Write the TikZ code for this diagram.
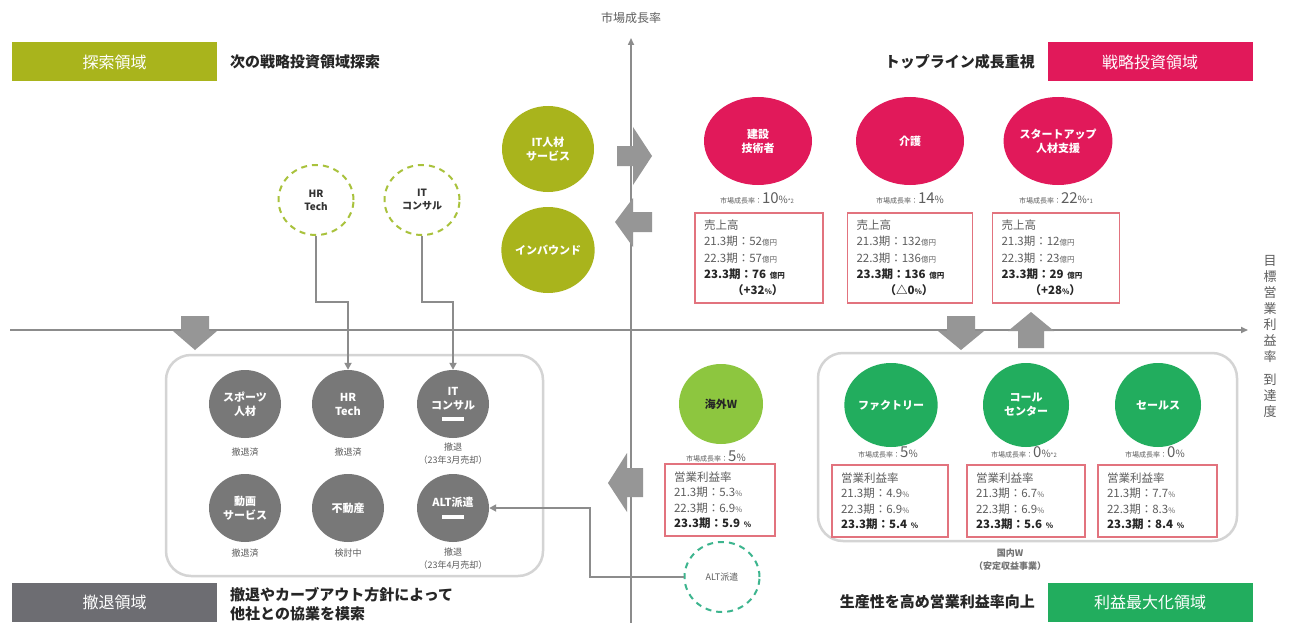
\documentclass[tikz,border=0pt]{standalone}
\usepackage{fontspec}
\setmainfont{Noto Sans CJK JP}
\usetikzlibrary{arrows.meta,shapes.geometric}
\definecolor{olive}{HTML}{A9B41C}
\definecolor{crim}{HTML}{E1195A}
\definecolor{lbgray}{HTML}{6D6D72}
\definecolor{grn}{HTML}{22AD5E}
\definecolor{lgrn}{HTML}{8DC63F}
\definecolor{cgray}{HTML}{787878}
\definecolor{axgray}{HTML}{8C8C8C}
\definecolor{blkgray}{HTML}{969696}
\definecolor{redbox}{HTML}{E2737E}
\definecolor{txtgray}{HTML}{5E5E5E}
\definecolor{tealc}{HTML}{3DB58E}
\definecolor{ygrn}{HTML}{A9C23C}
\definecolor{roundgray}{HTML}{D4D4D4}
\newcommand{\myfs}[2]{\fontsize{#1}{#2}\selectfont}
\newcommand{\unit}[1]{{\myfs{7.5}{10}#1}}
\newcommand{\mrate}[2]{{\myfs{7}{10}市場成長率：}{\myfs{15}{16}#1}{\myfs{10}{12}\%}{\myfs{6}{8}#2}}
\tikzset{
  area/.style={minimum width=205, minimum height=39, inner sep=0, text=white, font=\myfs{16}{18}},
  head/.style={font=\bfseries\myfs{15}{21}, text=black!85, inner sep=0, align=left},
  bcirc/.style={ellipse, inner sep=0, align=center, text=white, font=\bfseries\myfs{11}{14}},
  ratelbl/.style={text=txtgray, inner sep=0},
  databox/.style={draw=redbox, line width=1.2, align=left, text=txtgray, inner ysep=0, inner xsep=9, font=\myfs{11.5}{16.3}},
  sub/.style={text=txtgray, font=\myfs{9}{13}, align=center, inner sep=0},
  conn/.style={draw=axgray, line width=2, -{Triangle[length=7,width=7]}},
  axis/.style={draw=axgray, line width=1.6, -{Triangle[length=7,width=6]}},
  dcirc/.style={ellipse, draw=#1, dashed, dash pattern=on 6pt off 5pt, line width=2, inner sep=0, align=center, minimum width=75, minimum height=70},
  blockarrow/.style={fill=blkgray}
}
\begin{document}
\begin{tikzpicture}[x=1pt,y=-1pt]
\useasboundingbox (0,0) rectangle (1292,623);
\fill[white] (0,0) rectangle (1292,623);

% axes
\draw[axis] (10,330) -- (1248,330);
\draw[axis] (631,623) -- (631,38);
\node[text=txtgray, font=\myfs{12}{14}, inner sep=0] (ytitle) at (631,18) {市場成長率};
\node[text=txtgray, font=\myfs{13}{16}, align=center, inner sep=0] (xtitle) at (1270,336)
  {目\\標\\営\\業\\利\\益\\率\\[7pt]到\\達\\度};

% area labels
\node[area, fill=olive] (explore) at (114.5,62) {探索領域};
\node[head, anchor=west] (exploretxt) at (230,62) {次の戦略投資領域探索};
\node[area, fill=crim] (strategic) at (1150,62) {戦略投資領域};
\node[head, anchor=east] (strategictxt) at (1035,62) {トップライン成長重視};
\node[area, fill=lbgray] (withdraw) at (114.5,602) {撤退領域};
\node[head, anchor=north west, font=\bfseries\myfs{15}{19.5}] (withdrawtxt) at (230,587) {撤退やカーブアウト方針によって\\他社との協業を模索};
\node[area, fill=grn] (profit) at (1150,602) {利益最大化領域};
\node[head, anchor=east] (profittxt) at (1035,602) {生産性を高め営業利益率向上};

% block arrows
\fill[blockarrow] (617,146) -- (633,146) -- (633,127) -- (652,156) -- (633,185) -- (633,166) -- (617,166) -- cycle;
\fill[blockarrow] (652,212) -- (633,212) -- (633,198) -- (615,222) -- (633,247) -- (633,232) -- (652,232) -- cycle;
\fill[blockarrow] (643,468) -- (627,468) -- (627,453) -- (608,483) -- (627,512) -- (627,497) -- (643,497) -- cycle;
\fill[blockarrow] (181,316) -- (209,316) -- (209,331) -- (217,331) -- (195,350) -- (173,331) -- (181,331) -- cycle;
\fill[blockarrow] (947,316) -- (975,316) -- (975,331) -- (984,331) -- (961,350) -- (938,331) -- (947,331) -- cycle;
\fill[blockarrow] (1018,348) -- (1044,348) -- (1044,331) -- (1054,331) -- (1031,312) -- (1008,331) -- (1018,331) -- cycle;

% olive circles
\node[bcirc, fill=olive, minimum width=92, minimum height=86] (itjinzai) at (548,149) {IT人材\\サービス};
\node[bcirc, fill=olive, minimum width=92, minimum height=86] (inbound) at (548,250) {インバウンド};

% crimson circles
\node[bcirc, fill=crim, minimum width=108, minimum height=88] (kensetsu) at (758,141) {建設\\技術者};
\node[bcirc, fill=crim, minimum width=108, minimum height=88] (kaigo) at (910,141) {介護};
\node[bcirc, fill=crim, minimum width=108, minimum height=88] (startup) at (1058,141) {スタートアップ\\人材支援};

\node[ratelbl] (r1) at (757,198) {\mrate{10}{*2}};
\node[ratelbl] (r2) at (910,198) {\mrate{14}{}};
\node[ratelbl] (r3) at (1056,198) {\mrate{22}{*1}};

\node[databox, minimum width=128, minimum height=90, text width=110] (b1) at (759,258)
 {売上高\\21.3期：52\unit{億円}\\22.3期：57\unit{億円}\\{\bfseries\color{black!85}23.3期：76 \unit{億円}}\\\hspace*{28pt}{\bfseries\color{black!85}（+32\unit{\%}）}};
\node[databox, minimum width=125, minimum height=90, text width=107] (b2) at (910,258)
 {売上高\\21.3期：132\unit{億円}\\22.3期：136\unit{億円}\\{\bfseries\color{black!85}23.3期：136 \unit{億円}}\\\hspace*{28pt}{\bfseries\color{black!85}（△0\unit{\%}）}};
\node[databox, minimum width=127, minimum height=90, text width=109] (b3) at (1056,258)
 {売上高\\21.3期：12\unit{億円}\\22.3期：23\unit{億円}\\{\bfseries\color{black!85}23.3期：29 \unit{億円}}\\\hspace*{28pt}{\bfseries\color{black!85}（+28\unit{\%}）}};

% exploration dashed circles
\node[dcirc=ygrn, text=black!80, font=\bfseries\myfs{10}{13}] (hrd) at (316,200) {HR\\Tech};
\node[dcirc=ygrn, text=black!80, font=\bfseries\myfs{10}{13}] (itd) at (422,200) {IT\\コンサル};

% withdrawal group
\draw[roundgray, line width=2.5, rounded corners=25] (166,355) rectangle (543,576);
\node[bcirc, fill=cgray, minimum width=72, minimum height=68] (sports) at (245,404) {スポーツ\\人材};
\node[bcirc, fill=cgray, minimum width=72, minimum height=68] (hrg) at (348,404) {HR\\Tech};
\node[bcirc, fill=cgray, minimum width=72, minimum height=68] (itg) at (453,404) {IT\\コンサル\\[-3pt]\rule{22pt}{4pt}};
\node[bcirc, fill=cgray, minimum width=72, minimum height=68] (douga) at (245,508) {動画\\サービス};
\node[bcirc, fill=cgray, minimum width=72, minimum height=68] (fudousan) at (348,508) {不動産};
\node[bcirc, fill=cgray, minimum width=72, minimum height=68] (altg) at (453,508) {ALT派遣\\[-1pt]\rule{22pt}{4pt}};
\node[sub] (s1) at (245,452) {撤退済};
\node[sub] (s2) at (348,452) {撤退済};
\node[sub] (s3) at (453,454) {撤退\\（23年3月売却）};
\node[sub] (s4) at (245,553) {撤退済};
\node[sub] (s5) at (348,553) {検討中};
\node[sub] (s6) at (453,559) {撤退\\（23年4月売却）};

\draw[conn] (hrd.south) -- ++(0,66) -| (hrg.north);
\draw[conn] (itd.south) -- ++(0,66) -| (itg.north);

% overseas
\node[bcirc, fill=lgrn, text=black!85, minimum width=84, minimum height=80] (kaigai) at (721,404) {海外W};
\node[ratelbl] (r4) at (716,456) {\mrate{5}{}};
\node[databox, minimum width=110, minimum height=72, text width=92, font=\myfs{11.5}{15.5}] (b4) at (720,500)
 {営業利益率\\21.3期：5.3\unit{\%}\\22.3期：6.9\unit{\%}\\{\bfseries\color{black!85}23.3期：5.9 \unit{\%}}};
\node[dcirc=tealc, text=txtgray, font=\myfs{9}{12}] (altd) at (722,577) {ALT派遣};
\draw[conn] (altd.west) -- (590,577) |- (altg.east);

% domestic group
\draw[roundgray, line width=2.5, rounded corners=25] (818,353) rectangle (1237,541);
\node[bcirc, fill=grn, minimum width=86, minimum height=84] (factory) at (891,405) {ファクトリー};
\node[bcirc, fill=grn, minimum width=86, minimum height=84] (call) at (1026,405) {コール\\センター};
\node[bcirc, fill=grn, minimum width=86, minimum height=84] (sales) at (1158,405) {セールス};
\node[ratelbl] (r5) at (888,452) {\mrate{5}{}};
\node[ratelbl] (r6) at (1024,452) {\mrate{0}{*2}};
\node[ratelbl] (r7) at (1155,452) {\mrate{0}{}};
\node[databox, minimum width=116, minimum height=72, text width=98, font=\myfs{11.5}{15.5}] (b5) at (890,501)
 {営業利益率\\21.3期：4.9\unit{\%}\\22.3期：6.9\unit{\%}\\{\bfseries\color{black!85}23.3期：5.4 \unit{\%}}};
\node[databox, minimum width=118, minimum height=72, text width=100, font=\myfs{11.5}{15.5}] (b6) at (1026,501)
 {営業利益率\\21.3期：6.7\unit{\%}\\22.3期：6.9\unit{\%}\\{\bfseries\color{black!85}23.3期：5.6 \unit{\%}}};
\node[databox, minimum width=119, minimum height=72, text width=101, font=\myfs{11.5}{15.5}] (b7) at (1157.5,501)
 {営業利益率\\21.3期：7.7\unit{\%}\\22.3期：8.3\unit{\%}\\{\bfseries\color{black!85}23.3期：8.4 \unit{\%}}};
\node[sub, font=\bfseries\myfs{9}{13}, text=black!55] (kokunai) at (1010,560) {国内W\\（安定収益事業）};
\end{tikzpicture}
\end{document}
